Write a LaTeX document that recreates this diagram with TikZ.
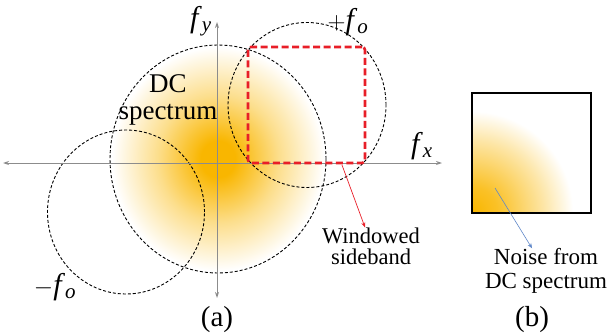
\documentclass[tikz,border=0pt]{standalone}
\usepackage{fontspec}
\setmainfont{Liberation Serif}
\usetikzlibrary{shapes.geometric,arrows.meta}
\definecolor{dcorange}{RGB}{249,182,0}
\definecolor{winred}{RGB}{232,30,40}
\definecolor{axisgray}{RGB}{140,140,140}
\definecolor{noiseblue}{RGB}{95,135,200}
\pgfdeclareradialshading{dcshade}{\pgfpoint{0bp}{0bp}}{color(0bp)=(dcorange); color(4bp)=(dcorange); color(14bp)=(dcorange!45!white); color(24.5bp)=(white); color(50bp)=(white)}
\pgfdeclareradialshading{cornershade}{\pgfpoint{0bp}{0bp}}{color(0bp)=(dcorange); color(6bp)=(dcorange!85!white); color(17bp)=(dcorange!35!white); color(24bp)=(white); color(50bp)=(white)}
\newcommand{\fsym}[1]{\textit{f}\textsubscript{\textit{#1}}}
\begin{document}
\begin{tikzpicture}[x=1pt,y=-1pt,
  sidecircle/.style={ellipse, draw=black, line width=0.9pt, dash pattern=on 3pt off 2pt, inner sep=0pt},
  axisline/.style={draw=axisgray, line width=1pt, {Stealth[length=6pt,width=4pt]}-{Stealth[length=6pt,width=4pt]}},
  window/.style={draw=winred, line width=2.6pt, dash pattern=on 7pt off 3.5pt, rounded corners=3pt, inner sep=0pt},
  lbl/.style={font=\fontsize{27}{28}\selectfont, inner sep=0pt},
  mathlbl/.style={font=\fontsize{30}{30}\selectfont, inner sep=0pt},
  small/.style={font=\fontsize{22.5}{22}\selectfont, align=center, inner sep=0pt},
  pointer/.style={line width=0.7pt, -{Stealth[length=5pt,width=4pt]}}
]
\useasboundingbox (0,0) rectangle (609,334);
% DC spectrum
\node[sidecircle, minimum width=216pt, minimum height=228pt, shade, shading=dcshade] (dc) at (218,159) {};
\node[sidecircle, minimum width=157pt, minimum height=164pt] (neg) at (126,212) {};
\node[sidecircle, minimum width=158pt, minimum height=165pt] (pos) at (307,105) {};
% axes
\coordinate (xl) at (3,163);
\coordinate (xr) at (442,163);
\coordinate (yt) at (217,22);
\coordinate (yb) at (217,298);
\draw[axisline] (xl) -- (xr);
\draw[axisline] (yb) -- (yt);
% window
\node[window, minimum width=117pt, minimum height=116pt] (win) at (306.5,105) {};
% labels (a)
\node[mathlbl] (fy) at (201,21) {\fsym{y}};
\node[mathlbl] (fx) at (422,146) {\fsym{x}};
\node[mathlbl] (pf) at (348,22) {$+$\fsym{o}};
\node[mathlbl] (nf) at (55,287) {$-$\fsym{o}};
\node[lbl, align=center, font=\fontsize{27}{27}\selectfont] (dct) at (168,100) {DC\\spectrum};
\node[small, font=\fontsize{22.5}{21}\selectfont] (wst) at (371,246) {Windowed\\sideband};
\coordinate (ws0) at (342,165);
\draw[pointer, draw=winred] (ws0) -- (wst.north -| 365,0) ;
\node[lbl, font=\fontsize{29}{30}\selectfont, anchor=base] (la) at (217,326) {(a)};
% panel (b)
\begin{scope}
\clip (472,94) rectangle (591,212);
\shade[shading=cornershade] (472,212) circle[radius=105];
\end{scope}
\node[draw=black, line width=2pt, minimum size=119pt, inner sep=0pt] (boxb) at (531.5,153) {};
\node[small, font=\fontsize{23}{24}\selectfont] (nt) at (546,271) {Noise from\\DC spectrum};
\coordinate (n0) at (495,188);
\draw[pointer, draw=noiseblue, line width=0.6pt] (n0) -- (nt.north -| 532,0);
\node[lbl, font=\fontsize{29}{30}\selectfont, anchor=base] (lb) at (532,326) {(b)};
\end{tikzpicture}
\end{document}
